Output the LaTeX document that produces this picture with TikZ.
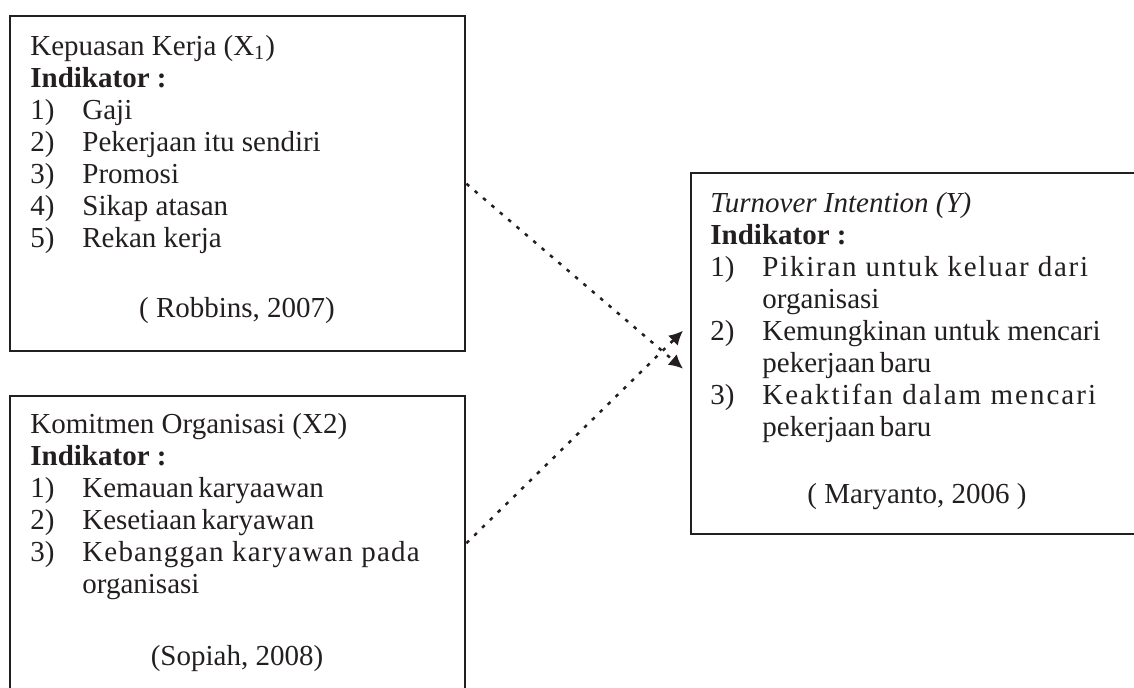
\documentclass[tikz,border=0pt]{standalone}
\usepackage{fontspec}
\setmainfont{Liberation Serif}
\usetikzlibrary{arrows.meta}
\definecolor{ink}{HTML}{231F20}
\newcommand{\nr}[1]{\makebox[26pt][l]{#1}}
\begin{document}
\begin{tikzpicture}[x=0.5pt,y=-0.5pt,
  kotak/.style={draw=ink,line width=1.2pt,rectangle,anchor=north west,inner sep=0pt},
  isi/.style={anchor=base west,inner sep=0pt,text=ink,font=\fontsize{14.5}{16}\selectfont},
  sumber/.style={anchor=base,inner sep=0pt,text=ink,font=\fontsize{14.5}{16}\selectfont},
  panah/.style={draw=ink,line width=1.25pt,dash pattern=on 1.8pt off 3.7pt,
    -{Latex[length=7pt,width=7pt]}}]
\clip (0,0) rectangle (1134,687);
% kotak variabel
\node[kotak,minimum width=227.5pt,minimum height=167.5pt] (kepuasan) at (9,15) {};
\node[kotak,minimum width=227.5pt,minimum height=147pt] (komitmen) at (9,395) {};
\node[kotak,minimum width=227pt,minimum height=180.5pt] (turnover) at (690,172) {};
% isi kotak
\node[isi] (kepuasanIsi) at (30,55) {\begin{tabular}[t]{@{}l@{}}
  Kepuasan Kerja (X\textsubscript{1})\\
  \textbf{Indikator :}\\
  \nr{1)}Gaji\\
  \nr{2)}Pekerjaan itu sendiri\\
  \nr{3)}Promosi\\
  \nr{4)}Sikap atasan\\
  \nr{5)}Rekan kerja
\end{tabular}};
\node[sumber] (kepuasanRef) at (237,317) {( Robbins, 2007)};
\node[isi] (komitmenIsi) at (30,433) {\begin{tabular}[t]{@{}l@{}}
  Komitmen Organisasi (X2)\\
  \textbf{Indikator :}\\
  \nr{1)}Kemauan\,karyaawan\\
  \nr{2)}Kesetiaan\,karyawan\\
  \nr{3)}{\addfontfeature{LetterSpace=4}Kebanggan karyawan pada}\\
  \nr{}organisasi
\end{tabular}};
\node[sumber] (komitmenRef) at (237,665) {(Sopiah, 2008)};
\node[isi] (turnoverIsi) at (710,212) {\begin{tabular}[t]{@{}l@{}}
  \textit{Turnover Intention (Y)}\\
  \textbf{Indikator :}\\
  \nr{1)}{\addfontfeature{LetterSpace=6}Pikiran untuk keluar dari}\\
  \nr{}organisasi\\
  \nr{2)}Kemungkinan untuk mencari\\
  \nr{}pekerjaan\,baru\\
  \nr{3)}{\addfontfeature{LetterSpace=7}Keaktifan dalam mencari}\\
  \nr{}pekerjaan\,baru
\end{tabular}};
\node[sumber] (turnoverRef) at (917,503) {( Maryanto, 2006 )};
% panah
\coordinate (ujungA) at ([shift={(-7,15)}]turnover.west);
\coordinate (ujungB) at ([shift={(-7,-23)}]turnover.west);
\draw[panah] (kepuasan.east) -- (ujungA);
\draw[panah] (komitmen.east) -- (ujungB);
\end{tikzpicture}
\end{document}
